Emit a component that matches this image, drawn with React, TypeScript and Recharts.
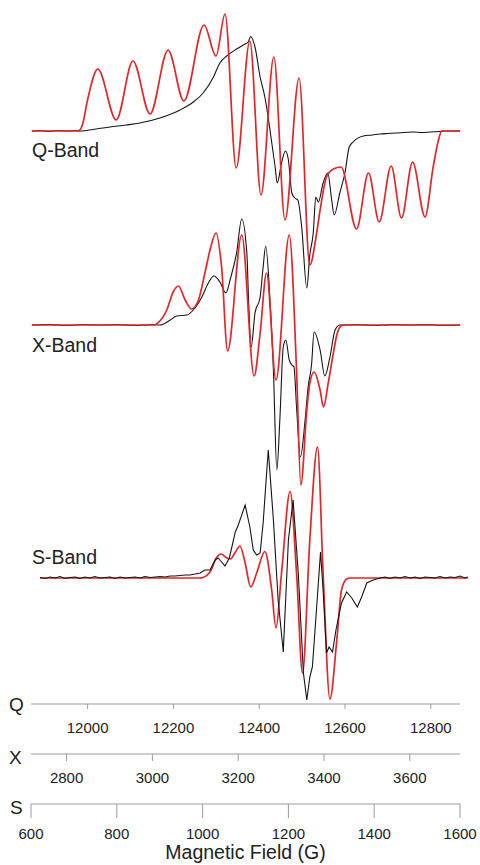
import { LineChart, Line, XAxis, YAxis } from 'recharts'

// field (G), intensity (arb. units, baseline = 0)
const qExperimental: [number, number][] = [
  [11870, 0], [11890, 0.5], [11910, -0.5], [11930, 0.5], [11950, 0], [11970, 0.5], [11982, 0],
  [12020, 2], [12052, 4], [12090, 6], [12122, 8], [12169, 13], [12216, 21], [12247, 29],
  [12270, 38], [12294, 54], [12309, 68], [12325, 75], [12348, 82], [12368, 87], [12375, 89],
  [12381, 94.5], [12391, 84], [12403, 54], [12414, 34], [12426, 1], [12438, -36], [12443, -52],
  [12453, -32], [12462, -20], [12469, -29], [12477, -62], [12484, -67], [12491, -69], [12500, -96],
  [12512, -157], [12519, -124], [12527, -102], [12533, -66], [12539, -71], [12550, -52],
  [12561, -42], [12570, -69], [12576, -84], [12589, -62], [12601, -42], [12611, -16], [12620, -11],
  [12644, -5], [12665, -4], [12683, -3], [12700, -2.5], [12722, -2], [12740, -1.5], [12761, -1],
  [12780, -1.5], [12800, -1], [12820, -0.5], [12840, 0], [12870, 0],
]

const qSimulated: [number, number][] = [
  [11870, 0], [11978, 0], [11988, 6], [12000, 31], [12024, 62], [12067, 11], [12106, 70],
  [12146, 17], [12188, 81], [12225, 30], [12272, 106], [12300, 75], [12321, 117], [12347, -37],
  [12379, 90], [12405, -64], [12435, 74], [12461, -89], [12494, 53], [12519, -134], [12535, -102],
  [12543, -79], [12558, -46], [12574, -38], [12592, -36], [12628, -98], [12656, -42], [12681, -91],
  [12709, -35], [12733, -87], [12759, -31], [12788, -86], [12807, -36], [12820, -8], [12827, 0],
  [12870, 0],
]

const xExperimental: [number, number][] = [
  [2719, 0], [2760, 0.5], [2800, -0.5], [2840, 0.5], [2880, 0], [2920, 0.5], [2960, -0.5],
  [3000, 0.5], [3018, 0], [3042, 5], [3057, 9], [3081, 10], [3096, 15], [3116, 28], [3131, 42],
  [3144, 49], [3158, 43], [3172, 32], [3183, 47], [3197, 72], [3209, 106], [3221, 72], [3225, 25],
  [3231, -22], [3240, 12], [3252, 28], [3259, 58], [3265, 79], [3275, 25], [3283, -45],
  [3291, -145], [3298, -95], [3306, -22], [3312, -15], [3320, -35], [3326, -40], [3331, -42],
  [3337, -82], [3346, -132], [3357, -95], [3364, -62], [3372, -40], [3378, -7], [3392, -25],
  [3403, -51], [3415, -32], [3427, -5], [3438, 0], [3480, 0.5], [3520, -0.5], [3560, 0.5],
  [3600, 0], [3640, 0.5], [3680, -0.5], [3719, 0],
]

const xSimulated: [number, number][] = [
  [2719, 0], [3006, 0], [3010, 1], [3034, 15], [3049, 33], [3061, 39], [3077, 25], [3092, 16],
  [3108, 25], [3123, 52], [3135, 75], [3149, 92], [3162, 58], [3176, -26], [3209, 90],
  [3238, -51], [3252, -8], [3267, 52], [3289, -55], [3320, 90], [3337, -45], [3347, -160],
  [3361, -85], [3368, -58], [3378, -47], [3392, -65], [3400, -82], [3411, -58], [3423, -28],
  [3431, -10], [3441, -1], [3450, 0], [3719, 0],
]

const sExperimental: [number, number][] = [
  [621, 0.5], [633, -0.5], [644, 1], [656, 0], [668, 1.5], [679, -0.5], [691, 0.5], [703, 1],
  [714, -0.5], [726, 1], [738, 0], [749, 1.5], [761, 0], [773, 0.5], [785, 1], [796, -0.5],
  [808, 1], [820, 0], [831, 0.5], [843, 1], [855, 0], [866, 1.5], [878, 0.5], [890, 1],
  [901, 1.5], [913, 1], [925, 2], [936, 2], [948, 2.5], [960, 3], [971, 3], [983, 4], [995, 5],
  [1006, 8], [1018, 8], [1030, 18], [1037, 20], [1045, 16], [1053, 12], [1063, 20], [1069, 31],
  [1077, 46], [1084, 53], [1100, 73], [1111, 51], [1119, 28], [1127, 23], [1135, 25], [1142, 55],
  [1149, 98], [1154, 128], [1166, 58], [1177, -22], [1189, -74], [1201, 38], [1212, 78],
  [1224, 5], [1236, -95], [1244, -122], [1251, -99], [1257, -89], [1267, -29], [1276, 26],
  [1282, -12], [1290, -75], [1296, -69], [1304, -74], [1312, -52], [1325, -25], [1337, -14],
  [1349, -20], [1362, -29], [1372, -19], [1384, -5], [1399, -2], [1415, 0], [1427, 1],
  [1438, -0.5], [1450, 1], [1462, 0], [1473, 1.5], [1485, 0], [1497, 1], [1508, -0.5], [1520, 1],
  [1532, 0.5], [1543, 0], [1555, 1.5], [1567, 0], [1578, 1], [1590, 0.5], [1602, 2], [1613, 0],
  [1620, 1],
]

const sSimulated: [number, number][] = [
  [621, 0], [995, 0], [1002, 0.5], [1018, 6], [1034, 21], [1044, 24], [1057, 20], [1066, 19],
  [1076, 25], [1088, 32], [1100, 15], [1113, -9], [1127, 5], [1146, 26.5], [1162, -12],
  [1172, -50], [1185, 5], [1205, 86.5], [1220, 5], [1234, -95], [1251, 38], [1269, 131],
  [1282, 5], [1298, -121], [1314, -62], [1325, -12], [1337, -1], [1345, 0], [1620, 0],
]

// axis ranges for each band (G)
const qRange = [11868, 12868]
const xRange = [2717, 3717]
const sRange = [600, 1600]

const qTicks = [12000, 12200, 12400, 12600, 12800]
const xTicks = [2800, 3000, 3200, 3400, 3600]
const sTicks = [600, 800, 1000, 1200, 1400, 1600]

const bandLabels = ['Q-Band', 'X-Band', 'S-Band']
const axisLetters = ['Q', 'X', 'S']

const toPoints = (rows: [number, number][]) => rows.map(([f, v]) => ({ f, v }))

// endpoints so the axis-only chart has a domain to work with
const axisData = [
  { q: qRange[0], x: xRange[0], s: sRange[0] },
  { q: qRange[1], x: xRange[1], s: sRange[1] },
]

const FONT = '"Liberation Sans", Arial, sans-serif'
const RED = '#e3262a'
const BLACK = '#151515'
const AXIS = '#9c9c9c'
const TEXT = '#222'

export default function App() {
  const tick = { fill: TEXT, fontSize: 15, fontFamily: FONT }
  return (
    <div style={{ position: 'absolute', left: 0, top: 0, width: 480, height: 865, background: '#fff' }}>
      {/* spectra */}
      <div style={{ position: 'absolute', left: 0, top: 0 }}>
        <LineChart width={480} height={720} margin={{ top: 0, right: 10, bottom: 16, left: 31 }}>
          <XAxis xAxisId="q" type="number" dataKey="f" domain={[qRange[0], qRange[0] + 1025]} allowDataOverflow hide />
          <XAxis xAxisId="x" type="number" dataKey="f" domain={[xRange[0], xRange[0] + 1025]} allowDataOverflow hide />
          <XAxis xAxisId="s" type="number" dataKey="f" domain={[sRange[0], sRange[0] + 1025]} allowDataOverflow hide />
          <YAxis yAxisId="q" type="number" domain={[-573, 131]} allowDataOverflow hide />
          <YAxis yAxisId="x" type="number" domain={[-379, 325]} allowDataOverflow hide />
          <YAxis yAxisId="s" type="number" domain={[-126, 578]} allowDataOverflow hide />

          <Line xAxisId="q" yAxisId="q" data={toPoints(qExperimental)} dataKey="v" type="monotone"
            stroke={BLACK} strokeWidth={1.1} dot={false} isAnimationActive={false} />
          <Line xAxisId="q" yAxisId="q" data={toPoints(qSimulated)} dataKey="v" type="monotone"
            stroke={RED} strokeWidth={1.7} dot={false} isAnimationActive={false} />

          <Line xAxisId="x" yAxisId="x" data={toPoints(xExperimental)} dataKey="v" type="monotone"
            stroke={BLACK} strokeWidth={1.1} dot={false} isAnimationActive={false} />
          <Line xAxisId="x" yAxisId="x" data={toPoints(xSimulated)} dataKey="v" type="monotone"
            stroke={RED} strokeWidth={1.7} dot={false} isAnimationActive={false} />

          <Line xAxisId="s" yAxisId="s" data={toPoints(sSimulated)} dataKey="v" type="monotone"
            stroke={RED} strokeWidth={1.7} dot={false} isAnimationActive={false} />
          <Line xAxisId="s" yAxisId="s" data={toPoints(sExperimental)} dataKey="v" type="linear"
            stroke={BLACK} strokeWidth={1.1} dot={false} isAnimationActive={false} />
        </LineChart>
      </div>

      {/* stacked field axes (ids sort in top-to-bottom order) */}
      <div style={{ position: 'absolute', left: 0, top: 0 }}>
        <LineChart width={480} height={865} data={axisData} margin={{ top: 0, right: 20, bottom: 0, left: 31 }}>
          <YAxis yAxisId="0" hide />
          <XAxis xAxisId="a-q" dataKey="q" type="number" domain={qRange} allowDataOverflow ticks={qTicks}
            interval={0} height={50} stroke={AXIS} tickSize={5} tickMargin={13} tick={tick}
            fontSize={15} fontFamily={FONT} />
          <XAxis xAxisId="b-x" dataKey="x" type="number" domain={xRange} allowDataOverflow ticks={xTicks}
            interval={0} height={50} stroke={AXIS} tickSize={7} tickMargin={11} tick={tick}
            fontSize={15} fontFamily={FONT} />
          <XAxis xAxisId="c-s" dataKey="s" type="number" domain={sRange} allowDataOverflow ticks={sTicks}
            interval={0} height={61} stroke={AXIS} tickSize={14} tickMargin={10} tick={tick}
            fontSize={15} fontFamily={FONT}
            label={{ value: 'Magnetic Field (G)', position: 'insideBottom', offset: 6, fill: TEXT, fontSize: 19.5, fontFamily: FONT }} />
        </LineChart>
      </div>

      <svg width={480} height={865} style={{ position: 'absolute', left: 0, top: 0, pointerEvents: 'none' }}>
        <g fontFamily={FONT} fill={TEXT} fontSize={19.5}>
          <text x={32} y={157}>{bandLabels[0]}</text>
          <text x={32} y={351.5}>{bandLabels[1]}</text>
          <text x={32} y={563.5}>{bandLabels[2]}</text>
        </g>
        <g fontFamily={FONT} fill={TEXT} fontSize={19}>
          <text x={9} y={711}>{axisLetters[0]}</text>
          <text x={9} y={763.5}>{axisLetters[1]}</text>
          <text x={10} y={813.5}>{axisLetters[2]}</text>
        </g>
      </svg>
    </div>
  )
}
